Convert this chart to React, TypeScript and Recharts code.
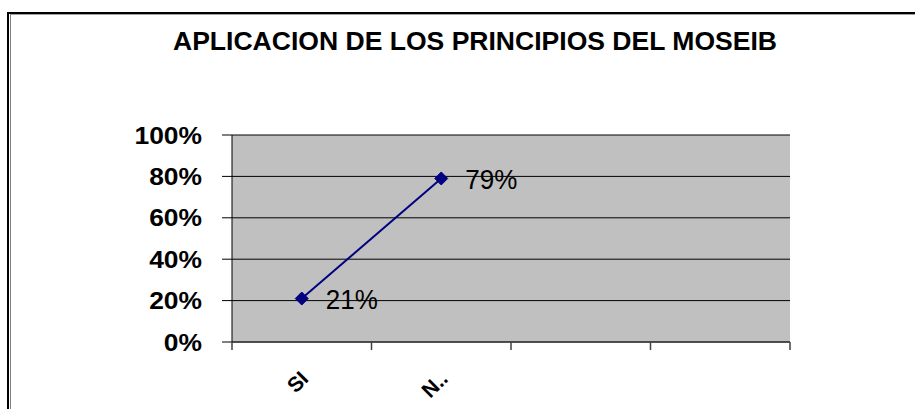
import React from 'react';
import { LineChart, Line, XAxis, YAxis, CartesianGrid, LabelList } from 'recharts';

const title = 'APLICACION DE LOS PRINCIPIOS DEL MOSEIB';
const categories = ['SI', 'N..', '', ''];
const values = [0.21, 0.79];
const yTicks = [0, 0.2, 0.4, 0.6, 0.8, 1];

const FONT = '"Liberation Sans", Arial, sans-serif';

const data = values.map((v, i) => ({ x: i + 0.5, v }));

// tick marks on category boundaries, labels on category centres
const xTicks: number[] = [];
categories.forEach((c, i) => {
  xTicks.push(i);
  if (c) xTicks.push(i + 0.5);
});
xTicks.push(categories.length);

const pct = (v: number) => `${Math.round(v * 100)}%`;

const XTick = (props: any) => {
  const { x, y, payload } = props;
  const v = payload.value;
  if (Number.isInteger(v)) {
    return <line x1={x} y1={y} x2={x} y2={y + 8} stroke="#404040" strokeWidth={1.5} />;
  }
  const label = categories[Math.floor(v)];
  const ax = x + 8;
  const ay = y + 38;
  return (
    <text
      x={ax}
      y={ay}
      textAnchor="end"
      transform={`rotate(-45 ${ax} ${ay})`}
      fontFamily={FONT}
      fontWeight="bold"
      fontSize={21}
      fill="#000"
    >
      {label}
    </text>
  );
};

const YTick = (props: any) => {
  const { x, y, payload } = props;
  return (
    <g transform={`translate(${x},${y})`}>
      <text
        textAnchor="end"
        dy="0.36em"
        transform="scale(1.1,1)"
        fontFamily={FONT}
        fontWeight="bold"
        fontSize={24}
        fill="#000"
      >
        {pct(payload.value)}
      </text>
    </g>
  );
};

const Diamond = (props: any) => {
  const { cx, cy } = props;
  if (cx == null || cy == null) return null;
  const r = 6.5;
  return (
    <polygon
      points={`${cx},${cy - r} ${cx + r},${cy} ${cx},${cy + r} ${cx - r},${cy}`}
      fill="#000080"
      stroke="#000080"
    />
  );
};

const PointLabel = (props: any) => {
  const { x, y, value } = props;
  return (
    <text
      x={x + 24}
      y={y}
      dy="0.36em"
      textLength={52}
      lengthAdjust="spacingAndGlyphs"
      fontFamily={FONT}
      fontSize={28}
      fill="#000"
    >
      {pct(value)}
    </text>
  );
};

export default function App() {
  return (
    <div style={{ position: 'absolute', left: 0, top: 0, width: 915, height: 409, overflow: 'hidden', background: '#fff' }}>
      <div style={{ position: 'absolute', left: 7, top: 12, width: 1000, height: 1000, borderLeft: '2px solid #000', borderTop: '2px solid #000' }} />
      <div style={{ position: 'absolute', left: 10, top: 14, width: 1000, height: 1000, borderLeft: '1px solid #808080', borderTop: '1px solid #a0a0a0' }} />
      <LineChart
        width={915}
        height={409}
        data={data}
        margin={{ top: 135, right: 125, bottom: 0, left: 172 }}
        style={{ position: 'absolute', left: 0, top: 0 }}
      >
        <CartesianGrid vertical={false} fill="#C0C0C0" stroke="#000" strokeOpacity={1} />
        <XAxis
          dataKey="x"
          type="number"
          domain={[0, categories.length]}
          ticks={xTicks}
          interval={0}
          tick={<XTick />}
          tickLine={false}
          tickSize={0}
          tickMargin={0}
          height={67}
          axisLine={{ stroke: '#404040', strokeWidth: 1.5 }}
          allowDataOverflow
        />
        <YAxis
          domain={[0, 1]}
          ticks={yTicks}
          interval={0}
          width={60}
          tick={<YTick />}
          tickSize={10}
          tickMargin={20}
          tickLine={{ stroke: '#000' }}
          axisLine={{ stroke: '#000' }}
        />
        <YAxis
          yAxisId="r"
          orientation="right"
          domain={[0, 1]}
          width={0}
          tick={false}
          tickLine={false}
          axisLine={{ stroke: '#505050', strokeWidth: 2 }}
        />
        <Line
          dataKey="v"
          stroke="#000080"
          strokeWidth={2}
          dot={<Diamond />}
          activeDot={false}
          isAnimationActive={false}
        >
          <LabelList dataKey="v" content={<PointLabel />} />
        </Line>
      </LineChart>
      <svg width={915} height={409} style={{ position: 'absolute', left: 0, top: 0, pointerEvents: 'none' }}>
        <text
          x={173}
          y={50}
          textLength={604}
          lengthAdjust="spacingAndGlyphs"
          fontFamily={FONT}
          fontWeight="bold"
          fontSize={25}
          fill="#000"
        >
          {title}
        </text>
      </svg>
    </div>
  );
}
